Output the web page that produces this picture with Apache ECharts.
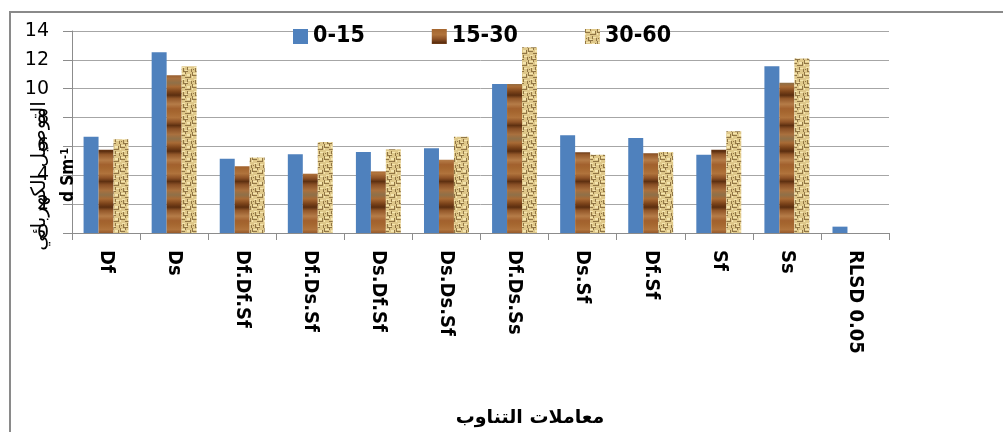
<!DOCTYPE html>
<html>
<head>
<meta charset="utf-8">
<script src="https://cdn.jsdelivr.net/npm/echarts@6/dist/echarts.min.js"></script>
<style>
  html, body { margin: 0; padding: 0; background: #fff; }
  #chart { width: 1003px; height: 432px; }
</style>
</head>
<body>
<div id="chart"></div>
<script>
// Crop rotation treatments and electrical conductivity (d Sm-1) at three soil depths
const categories = ['Df', 'Ds', 'Df.Df.Sf', 'Df.Ds.Sf', 'Ds.Df.Sf', 'Ds.Ds.Sf', 'Df.Ds.Ss', 'Ds.Sf', 'Df.Sf', 'Sf', 'Ss', 'RLSD 0.05'];
const depth0to15  = [6.67, 12.52, 5.15, 5.45, 5.61, 5.87, 10.33, 6.77, 6.58, 5.43, 11.55, 0.44];
const depth15to30 = [5.77, 10.93, 4.62, 4.11, 4.27, 5.08, 10.33, 5.59, 5.52, 5.77, 10.42, null];
const depth30to60 = [6.49, 11.55, 5.24, 6.30, 5.80, 6.67, 12.87, 5.43, 5.61, 7.05, 12.10, null];
const seriesNames = ['0-15', '15-30', '30-60'];
const yTicks = { min: 0, max: 14, interval: 2 };

// Wood-grain fill: soft horizontal bands of browns
function woodTexture() {
  const c = document.createElement('canvas');
  c.width = 8; c.height = 56;
  const g = c.getContext('2d');
  const grad = g.createLinearGradient(0, 0, 0, 56);
  const stops = [
    [0.00, '#A5662F'], [0.10, '#B0733C'], [0.18, '#8E5226'], [0.24, '#5E3011'],
    [0.30, '#8A5026'], [0.40, '#A9703E'], [0.48, '#8F7048'], [0.55, '#A86A35'],
    [0.64, '#7A4219'], [0.70, '#5B2E10'], [0.76, '#93582A'], [0.86, '#B57C48'],
    [0.94, '#A2612E'], [1.00, '#A5662F']
  ];
  stops.forEach(([o, col]) => grad.addColorStop(o, col));
  g.fillStyle = grad; g.fillRect(0, 0, 8, 56);
  return c;
}

// Papyrus-like fill: tan ground with small brown marks
function papyrusTexture() {
  const c = document.createElement('canvas');
  c.width = 12; c.height = 12;
  const g = c.getContext('2d');
  g.fillStyle = '#DFC88A'; g.fillRect(0, 0, 12, 12);
  g.fillStyle = '#F4E4AE';
  [[1,1,4,1],[7,2,3,2],[2,7,3,1],[8,8,3,1],[0,4,1,2],[5,10,2,1]].forEach(r => g.fillRect(...r));
  g.fillStyle = '#917645';
  [[0,0,1,3],[5,0,1,2],[0,3,5,1],[6,5,4,1],[10,2,1,4],[3,8,1,4],[4,11,4,1],[7,7,1,3],[11,9,1,3],[5,5,1,1],[1,9,1,1]].forEach(r => g.fillRect(...r));
  return c;
}

const fills = [
  '#4F81BD',
  { image: woodTexture(), repeat: 'repeat' },
  { image: papyrusTexture(), repeat: 'repeat' }
];
const dataSets = [depth0to15, depth15to30, depth30to60];

const chart = echarts.init(document.getElementById('chart'));
chart.setOption({
  animation: false,
  backgroundColor: '#fff',
  grid: { left: 72, right: 114, top: 31, bottom: 199, containLabel: false },
  legend: {
    left: 288, top: 20,
    itemWidth: 15, itemHeight: 15, itemGap: 67,
    icon: 'rect',
    textStyle: { fontFamily: 'DejaVu Sans Condensed', fontWeight: 'bold', fontSize: 23, color: '#000' },
    data: seriesNames
  },
  xAxis: {
    type: 'category',
    data: categories,
    axisLine: { lineStyle: { color: '#8C8C8C', width: 1 } },
    axisTick: { show: true, length: 7, lineStyle: { color: '#8C8C8C' } },
    axisLabel: {
      rotate: -90, margin: 17, interval: 0,
      fontFamily: 'DejaVu Sans Condensed', fontWeight: 'bold', fontSize: 20, color: '#000'
    },
    splitLine: { show: false }
  },
  yAxis: {
    type: 'value',
    min: yTicks.min, max: yTicks.max, interval: yTicks.interval,
    axisLine: { show: true, lineStyle: { color: '#8C8C8C' } },
    axisTick: { show: true, length: 9, lineStyle: { color: '#8C8C8C' } },
    axisLabel: { margin: 23, fontFamily: 'DejaVu Sans', fontSize: 19, color: '#000' },
    splitLine: { lineStyle: { color: '#A6A6A6', width: 1 } }
  },
  series: seriesNames.map((name, i) => ({
    name,
    type: 'bar',
    data: dataSets[i],
    barGap: '0%',
    barCategoryGap: '34%',
    itemStyle: { color: fills[i] }
  })),
  graphic: [
    {
      type: 'rect', z: 0, silent: true,
      shape: { x: 10, y: 12, width: 1010, height: 440 },
      style: { fill: 'none', stroke: '#8A8A8A', lineWidth: 2 }
    },
    {
      type: 'text', z: 100, x: 40, y: 176, rotation: Math.PI / 2,
      style: {
        text: 'التوصيل الكهربائي',
        font: '20px "DejaVu Sans"', fill: '#000',
        textAlign: 'center', textVerticalAlign: 'middle'
      }
    },
    {
      type: 'text', z: 100, x: 69, y: 175, rotation: Math.PI / 2,
      style: {
        text: 'd Sm{sup|-1}',
        font: 'bold 17px "DejaVu Sans Condensed"', fill: '#000',
        textAlign: 'center', textVerticalAlign: 'middle',
        rich: { sup: { fontSize: 11, fontWeight: 'bold', fontFamily: 'DejaVu Sans Condensed', verticalAlign: 'top', padding: [0, 0, 8, 0] } }
      }
    },
    {
      type: 'text', z: 100, x: 530, y: 418,
      style: {
        text: 'معاملات التناوب',
        font: 'bold 19px "DejaVu Sans"', fill: '#000',
        textAlign: 'center', textVerticalAlign: 'middle'
      }
    }
  ]
});
</script>
</body>
</html>
